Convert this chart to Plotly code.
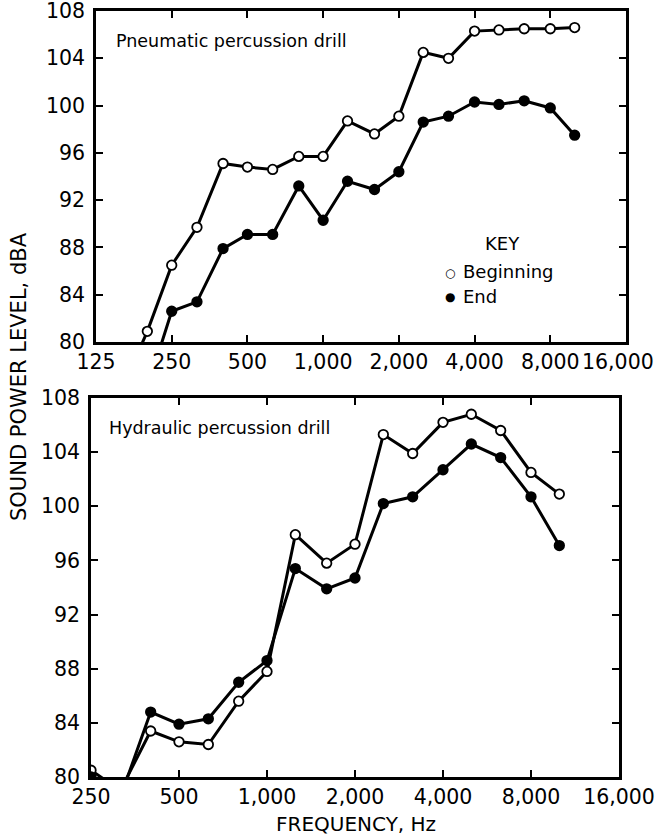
import plotly.graph_objects as go
import numpy as np

# ---- data ----
freq_pneu = [160, 200, 250, 315, 400, 500, 630, 800, 1000, 1250, 1600, 2000, 2500, 3150, 4000, 5000, 6300, 8000, 10000]
pneu_begin = [76.2, 80.9, 86.5, 89.7, 95.1, 94.8, 94.6, 95.7, 95.7, 98.7, 97.6, 99.1, 104.5, 104.0, 106.3, 106.4, 106.5, 106.5, 106.6]
freq_pneu_end = [200, 250, 315, 400, 500, 630, 800, 1000, 1250, 1600, 2000, 2500, 3150, 4000, 5000, 6300, 8000, 10000]
pneu_end = [76.1, 82.6, 83.4, 87.9, 89.1, 89.1, 93.2, 90.3, 93.6, 92.9, 94.4, 98.6, 99.1, 100.3, 100.1, 100.4, 99.8, 97.5]

freq_hyd = [250, 315, 400, 500, 630, 800, 1000, 1250, 1600, 2000, 2500, 3150, 4000, 5000, 6300, 8000, 10000]
hyd_begin = [80.5, 79.0, 83.4, 82.6, 82.4, 85.6, 87.8, 97.9, 95.8, 97.2, 105.3, 103.9, 106.2, 106.8, 105.6, 102.5, 100.9]
hyd_end = [80.0, 78.5, 84.8, 83.9, 84.3, 87.0, 88.6, 95.4, 93.9, 94.7, 100.2, 100.7, 102.7, 104.6, 103.6, 100.7, 97.1]

top_xticks = [125, 250, 500, 1000, 2000, 4000, 8000]
top_xlabels = ["125", "250", "500", "1,000", "2,000", "4,000", "8,000"]
top_last_tick, top_last_label = 16000, "16,000"
bot_xticks = [250, 500, 1000, 2000, 4000, 8000, 15999]
bot_xlabels = ["250", "500", "1,000", "2,000", "4,000", "8,000", "16,000"]
yticks = [80, 84, 88, 92, 96, 100, 104, 108]

FONT = "DejaVu Sans"
W, H = 657, 836

fig = go.Figure()

def add(x, y, xa, ya, filled):
    fig.add_trace(go.Scatter(
        x=x, y=y, xaxis=xa, yaxis=ya, mode="lines+markers",
        line=dict(color="black", width=3),
        marker=dict(symbol="circle", size=9.5,
                    color="black" if filled else "white",
                    line=dict(color="black", width=1.8)),
        showlegend=False, cliponaxis=True))

add(freq_pneu, pneu_begin, "x", "y", False)
add(freq_pneu_end, pneu_end, "x", "y", True)
add(freq_hyd, hyd_begin, "x2", "y2", False)
add(freq_hyd, hyd_end, "x2", "y2", True)

def px_x(p):
    return p / W

def px_y(p):
    return 1 - p / H

TICKSIZE = 20.5
axis_common = dict(showline=True, linecolor="black", linewidth=2.5, mirror="ticks",
                   ticks="inside", ticklen=7, tickwidth=1.5, tickcolor="black",
                   showgrid=False, zeroline=False, automargin=False,
                   ticklabeloverflow="allow",
                   tickfont=dict(family=FONT, size=TICKSIZE, color="black"))

fig.update_layout(
    width=W, height=H, margin=dict(l=0, r=0, t=0, b=0, autoexpand=False),
    paper_bgcolor="white", plot_bgcolor="white",
    xaxis=dict(type="log", range=[np.log10(125), np.log10(16000)],
               domain=[px_x(96), px_x(626)], anchor="y", ticklabelstandoff=0,
               tickvals=top_xticks, ticktext=top_xlabels, **axis_common),
    yaxis=dict(range=[80, 108], domain=[px_y(342), px_y(11)], anchor="x", ticklabelstandoff=4,
               tickvals=yticks, **axis_common),
    xaxis2=dict(type="log", range=[np.log10(250), np.log10(16000)],
                domain=[px_x(91), px_x(619)], anchor="y2", ticklabelstandoff=0,
                tickvals=bot_xticks, ticktext=bot_xlabels, **axis_common),
    yaxis2=dict(range=[80, 108], domain=[px_y(777), px_y(398)], anchor="x2", ticklabelstandoff=4,
                tickvals=yticks, **axis_common),
)

ann = [
    dict(text="Pneumatic percussion drill", x=px_x(114), y=px_y(41), xanchor="left", yanchor="middle",
         font=dict(size=17.5)),
    dict(text="Hydraulic percussion drill", x=px_x(107), y=px_y(428), xanchor="left", yanchor="middle",
         font=dict(size=17.5)),
    dict(text="KEY", x=px_x(502), y=px_y(243), xanchor="center", yanchor="middle", font=dict(size=18)),
    dict(text="○", x=px_x(450), y=px_y(273), xanchor="center", yanchor="middle", font=dict(size=12)),
    dict(text="Beginning", x=px_x(461), y=px_y(272), xanchor="left", yanchor="middle", font=dict(size=18)),
    dict(text="●", x=px_x(450), y=px_y(297), xanchor="center", yanchor="middle", font=dict(size=12)),
    dict(text="End", x=px_x(461), y=px_y(296), xanchor="left", yanchor="middle", font=dict(size=18)),
    dict(text="SOUND POWER LEVEL, dBA", x=px_x(19), y=px_y(377), xanchor="center", yanchor="middle",
         textangle=-90, font=dict(size=21)),
    dict(text="FREQUENCY, Hz", x=px_x(356), y=px_y(824), xanchor="center", yanchor="middle",
         font=dict(size=20)),
]
for a in ann:
    a["xref"] = "paper"
    a["yref"] = "paper"
    a["showarrow"] = False
    a["font"]["family"] = FONT
    a["font"]["color"] = "black"
# last tick label of the upper axis, placed at its tick value but nudged inside the page
ann.append(dict(text=top_last_label, xref="x", x=np.log10(top_last_tick), xshift=-8,
                yref="paper", y=px_y(362), yanchor="middle", showarrow=False,
                font=dict(family=FONT, size=TICKSIZE, color="black")))
fig.update_layout(annotations=ann)

fig.write_html("out.html")
